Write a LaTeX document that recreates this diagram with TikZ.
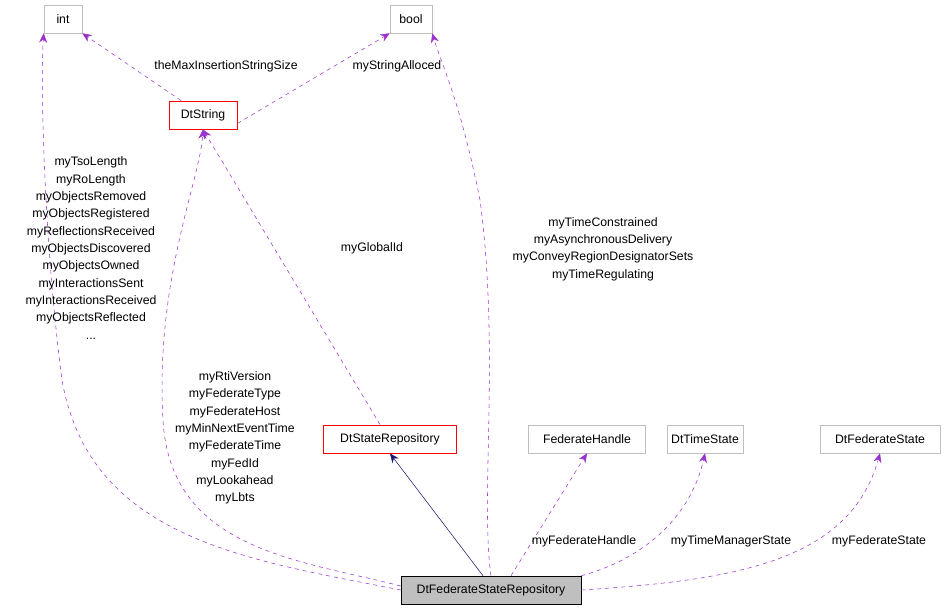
\documentclass[tikz,border=0pt]{standalone}
\usepackage{fontspec}
\setmainfont{Liberation Sans}
\usetikzlibrary{positioning}
\usetikzlibrary{arrows.meta}
\definecolor{edgepurple}{HTML}{9A32CD}
\definecolor{boxgray}{HTML}{BFBFBF}
\definecolor{boxred}{RGB}{255,0,0}
\definecolor{navyblue}{HTML}{191970}
\begin{document}
\begin{tikzpicture}[x=0.75pt,y=-0.75pt,
		box/.style={draw=boxgray, rectangle, minimum height=21pt, inner xsep=3pt, font=\fontsize{9.2}{13}\selectfont},
		redbox/.style={rectangle, draw=boxred, line width=0.7pt, minimum height=21pt, inner xsep=3pt, font=\fontsize{9.2}{13}\selectfont},
		mainbox/.style={rectangle, draw=black, fill=boxgray, minimum height=21pt, inner xsep=3pt, font=\fontsize{9.2}{13}\selectfont},
		member/.style={draw=edgepurple, dashed, -{Stealth[length=7pt,width=6pt]}},
		inherit/.style={draw=navyblue, -{Stealth[length=7pt,width=6pt]}},
		lbl/.style={font=\fontsize{9.2}{13}\selectfont, align=center, inner sep=1pt}]
		\useasboundingbox (0,0) rectangle (945,611);
		\node[box, minimum width=28.5pt] (int) at (63,19) {int};
		\node[box, minimum width=31.5pt] (bool) at (411,19) {bool};
		\node[redbox, minimum width=51pt] (dtstring) at (203,115) {DtString};
		\node[redbox, minimum width=100pt] (staterepo) at (390,439) {DtStateRepository};
		\node[box, minimum width=88pt] (fedhandle) at (587,439) {FederateHandle};
		\node[box, minimum width=54pt] (timestate) at (705,439) {DtTimeState};
		\node[box, minimum width=90pt] (fedstate) at (880,439) {DtFederateState};
		\node[mainbox, minimum width=135pt] (main) at (491,590) {DtFederateStateRepository};
		
		% members
		\draw[member] (dtstring.north) ++(-22,0) coordinate (a1) (a1) -- (int.south east);
		\draw[member] (dtstring.south east) ++(0,-6) coordinate (a6) (a6) -- (bool.south west);
		\draw[member] (staterepo.north) ++(-10,0) coordinate (a2) (a2) -- (dtstring.south);
		\draw[member] (main.west) .. controls (250,560) and (90,540) .. (62,380) .. controls (45,250) and (40,90) .. (int.south west);
		\draw[member] (main.west) ++(0,-4) coordinate (a3) (a3) .. controls (300,560) and (170,550) .. (163,420) .. controls (155,280) and (200,180) .. (dtstring.south);
		\draw[member] (main.north) .. controls (480,500) and (500,350) .. (480,200) .. controls (460,100) and (440,60) .. (bool.south east);
		\draw[member] (main.north) ++(20,0) coordinate (a4) (a4) -- (fedhandle.south);
		\draw[member] (main.north east) .. controls (640,560) and (690,520) .. (timestate.south);
		\draw[member] (main.east) .. controls (740,580) and (850,560) .. (fedstate.south);
		
		% inheritance
		\draw[inherit] (main.north) ++(-8,0) coordinate (a5) (a5) -- (staterepo.south);
		
		% labels
		\node[lbl] (l1) at (226,66) {theMaxInsertionStringSize};
		\node[lbl] (l2) at (397,66) {myStringAlloced};
		\node[lbl] (l3) at (372,248) {myGlobalId};
		\node[lbl] (l4) at (91,248) {myTsoLength\\myRoLength\\myObjectsRemoved\\myObjectsRegistered\\myReflectionsReceived\\myObjectsDiscovered\\myObjectsOwned\\myInteractionsSent\\myInteractionsReceived\\myObjectsReflected\\...};
		\node[lbl] (l5) at (235,438) {myRtiVersion\\myFederateType\\myFederateHost\\myMinNextEventTime\\myFederateTime\\myFedId\\myLookahead\\myLbts};
		\node[lbl] (l6) at (603,249) {myTimeConstrained\\myAsynchronousDelivery\\myConveyRegionDesignatorSets\\myTimeRegulating};
		\node[lbl] (l7) at (584,541) {myFederateHandle};
		\node[lbl] (l8) at (731,541) {myTimeManagerState};
		\node[lbl] (l9) at (879,541) {myFederateState};
	\end{tikzpicture}
\end{document}
